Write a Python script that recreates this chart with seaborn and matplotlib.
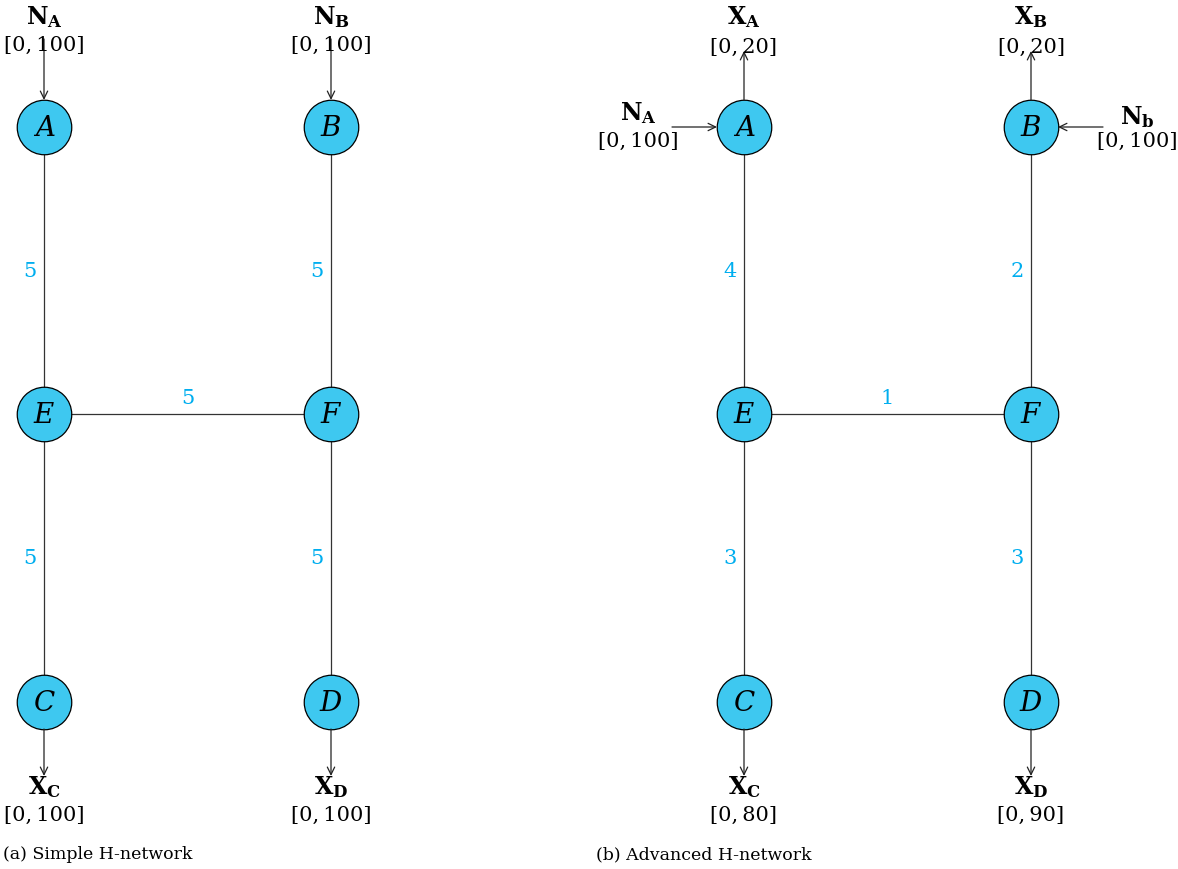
import matplotlib.pyplot as plt
import pandas as pd
import seaborn as sns

# --- data ---
node_names = ["A", "B", "E", "F", "C", "D"]
edges = [("A", "E"), ("B", "F"), ("E", "F"), ("E", "C"), ("F", "D")]
weights_simple = [5, 5, 5, 5, 5]
weights_advanced = [4, 2, 1, 3, 3]

# (label, node, interval) for every source / sink
flows_simple = [("N_A", "A", "[0,\u2009100]"), ("N_B", "B", "[0,\u2009100]"),
                ("X_C", "C", "[0,\u2009100]"), ("X_D", "D", "[0,\u2009100]")]
flows_advanced = [("X_A", "A", "[0,\u200920]"), ("X_B", "B", "[0,\u200920]"),
                  ("N_A", "A", "[0,\u2009100]"), ("N_b", "B", "[0,\u2009100]"),
                  ("X_C", "C", "[0,\u200980]"), ("X_D", "D", "[0,\u200990]")]
captions = ["(a) Simple H-network", "(b) Advanced H-network"]

# --- layout (pixels) ---
panel_x = [44, 744]
caption_x = [3, 596]
col_dx = 287
row_y = {"A": 128, "B": 128, "E": 415, "F": 415, "C": 703, "D": 703}
col = {"A": 0, "E": 0, "C": 0, "B": 1, "F": 1, "D": 1}
R = 27

node_fill = "#3ec8f0"
weight_col = "#00aeef"

sns.set_theme(style="white")
plt.rcParams["font.family"] = ["DejaVu Serif"]
plt.rcParams["mathtext.fontset"] = "dejavuserif"
plt.rcParams["text.color"] = "black"

fig = plt.figure(figsize=(11.78, 8.70), dpi=100)
ax = fig.add_axes([0, 0, 1, 1])
ax.set_xlim(0, 1178)
ax.set_ylim(870, 0)
ax.axis("off")

arrow = dict(arrowstyle="->,head_length=0.45,head_width=0.22", color="#222222",
             lw=0.9, shrinkA=0, shrinkB=0)


def pos(p, n):
    return panel_x[p] + col[n] * col_dx, row_y[n]


def flow_label(x, y1, y2, name, interval):
    ax.text(x, y1, f"$\\mathbf{{{name}}}$", ha="center", va="center", fontsize=17)
    ax.text(x, y2, interval, ha="center", va="center", fontsize=15)


for p, weights in enumerate([weights_simple, weights_advanced]):
    # edges
    for (a, b), w in zip(edges, weights):
        xa, ya = pos(p, a)
        xb, yb = pos(p, b)
        ax.plot([xa, xb], [ya, yb], color="#333333", lw=0.9, zorder=1)
        if ya == yb:
            ax.text((xa + xb) / 2, ya - 16, str(w), color=weight_col,
                    ha="center", va="center", fontsize=15)
        else:
            ax.text(xa - 14, (ya + yb) / 2, str(w), color=weight_col,
                    ha="center", va="center", fontsize=15)

    # nodes
    nodes = pd.DataFrame({"node": node_names,
                          "x": [pos(p, n)[0] for n in node_names],
                          "y": [pos(p, n)[1] for n in node_names]})
    sns.scatterplot(data=nodes, x="x", y="y", s=1540, color=node_fill,
                    edgecolor="black", linewidth=0.9, zorder=3, ax=ax, legend=False)
    for _, r in nodes.iterrows():
        ax.text(r.x, r.y + 1, f"${r.node}$", ha="center", va="center",
                fontsize=20, zorder=4)

    ax.text(caption_x[p], 855, captions[p], ha="left", va="center", fontsize=12.5)

ax.set_xlabel("")
ax.set_ylabel("")

# simple network flows
for name, n, iv in flows_simple:
    x, y = pos(0, n)
    if name.startswith("N"):
        ax.annotate("", xy=(x, y - R), xytext=(x, 40), arrowprops=arrow)
        flow_label(x, 17, 45, name, iv)
    else:
        ax.annotate("", xy=(x, 777), xytext=(x, y + R), arrowprops=arrow)
        flow_label(x, 787, 815, name, iv)

# advanced network flows
for name, n, iv in flows_advanced:
    x, y = pos(1, n)
    if name.startswith("X") and n in ("A", "B"):
        ax.annotate("", xy=(x, 52), xytext=(x, y - R), arrowprops=arrow)
        flow_label(x, 17, 47, name, iv)
    elif name.startswith("X"):
        ax.annotate("", xy=(x, 777), xytext=(x, y + R), arrowprops=arrow)
        flow_label(x, 787, 815, name, iv)
    elif col[n] == 0:
        ax.annotate("", xy=(x - R, y), xytext=(x - 72, y), arrowprops=arrow)
        flow_label(x - 106, 113, 141, name, iv)
    else:
        ax.annotate("", xy=(x + R, y), xytext=(x + 72, y), arrowprops=arrow)
        flow_label(x + 106, 117, 141, name, iv)

fig.savefig("out.png", dpi=100)
